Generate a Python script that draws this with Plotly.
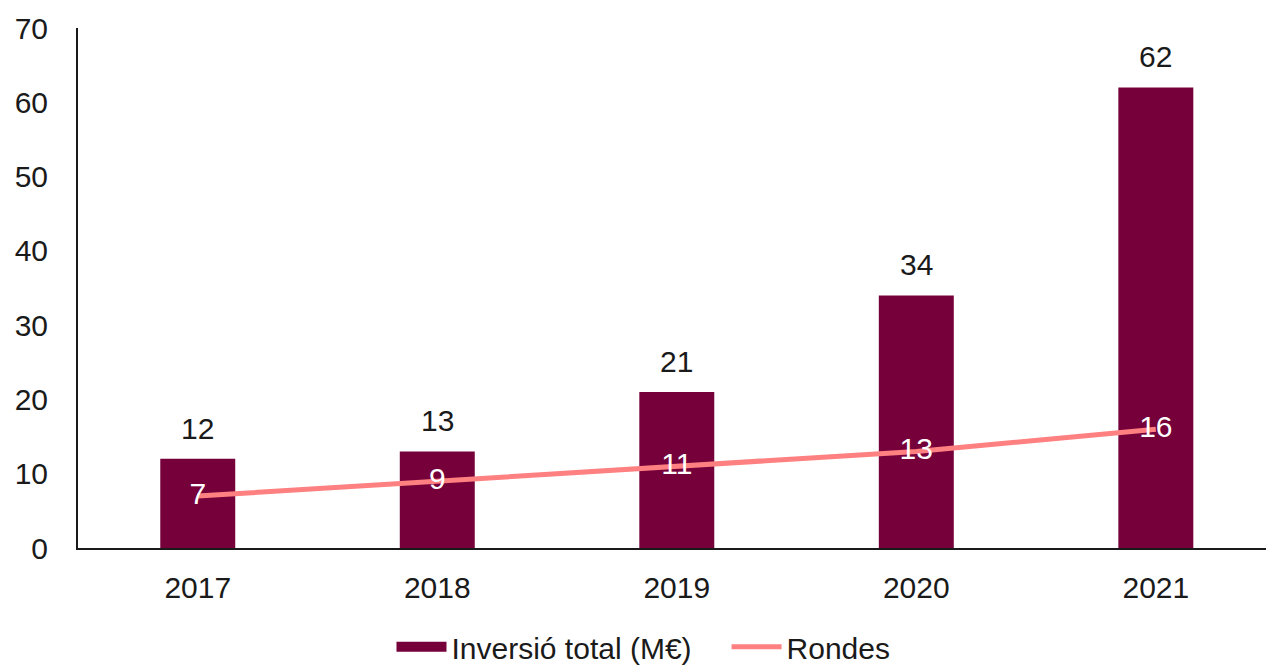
import plotly.graph_objects as go

years = ["2017", "2018", "2019", "2020", "2021"]
inversio = [12, 13, 21, 34, 62]
rondes = [7, 9, 11, 13, 16]

BAR_COLOR = "#75003A"
LINE_COLOR = "#FF8080"
FONT = "Liberation Sans, Arial, sans-serif"
FS = 30

fig = go.Figure()
fig.add_trace(go.Bar(
    x=years, y=inversio, name="Inversió total (M€)",
    marker=dict(color=BAR_COLOR, line=dict(width=0)),
    width=0.313, showlegend=False,
))
# legend proxy for the bar series (wider swatch)
fig.add_trace(go.Scatter(
    x=[None], y=[None], name="Inversió total (M€)\u2003", mode="lines",
    line=dict(color=BAR_COLOR, width=20),
))
fig.add_trace(go.Scatter(
    x=years, y=rondes, name="Rondes", mode="lines+text",
    line=dict(color=LINE_COLOR, width=5),
    text=[str(v) for v in rondes], textposition="middle center",
    textfont=dict(color="white", size=FS, family=FONT),
))

for i, v in enumerate(inversio):
    fig.add_annotation(x=i, y=v, xref="x", yref="y", text=str(v), showarrow=False,
                       yanchor="bottom", yshift=12,
                       font=dict(size=FS, color="#1a1a1a", family=FONT))

fig.update_layout(
    width=1266, height=665,
    margin=dict(l=78, r=0, t=28, b=117, autoexpand=False),
    plot_bgcolor="white", paper_bgcolor="white",
    font=dict(family=FONT, size=FS, color="#1a1a1a"),
    showlegend=True,
    legend=dict(orientation="h", x=0.476, xanchor="center", y=-0.19, yanchor="middle",
                font=dict(size=FS, color="#1a1a1a"), itemwidth=50, traceorder="normal"),
    xaxis=dict(type="category", range=[-0.5, 4.46], showline=True, linecolor="#1a1a1a",
               linewidth=2, ticks="", showgrid=False, ticklabelstandoff=12, automargin=False),
    yaxis=dict(range=[0, 70], dtick=10, showline=True, linecolor="#1a1a1a", linewidth=2,
               ticks="", showgrid=False, zeroline=False, ticklabelstandoff=22, automargin=False),
)

fig.write_html("out.html", config={"displayModeBar": False},
               post_script="document.body.style.margin='0';document.body.style.overflow='hidden';")
